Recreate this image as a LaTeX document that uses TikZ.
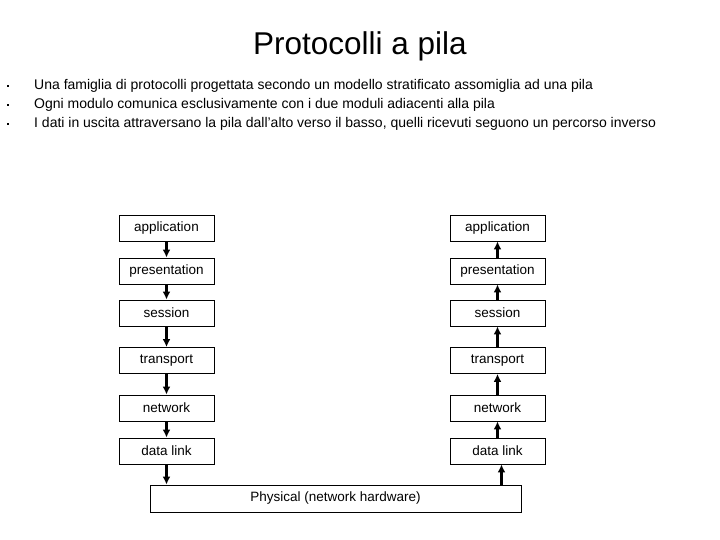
\documentclass[tikz,border=0pt]{standalone}
\usepackage{fontspec}
\setmainfont{Liberation Sans}
\usetikzlibrary{arrows.meta}

\tikzset{
  livello/.style={draw,line width=0.9pt,minimum width=95pt,minimum height=26pt,inner sep=0pt,font=\fontsize{13.5}{16}\selectfont},
  punto/.style={fill,inner sep=0pt,minimum size=2.6pt},
  riga/.style={anchor=west,inner sep=0pt,font=\fontsize{14}{16}\selectfont},
  freccia/.style={->,line width=2.4pt},
}

\begin{document}
\begin{tikzpicture}[x=1pt,y=-1pt,>={Latex[length=8pt,width=8pt]}]
  \useasboundingbox (0,0) rectangle (720,540);
  \node (titolo) at (360,46) {\fontsize{31.5}{36}\selectfont Protocolli a pila};
  % elenco puntato
  \node[punto] (p1) at (8,86) {};
  \node[punto] (p2) at (8,105) {};
  \node[punto] (p3) at (8,124) {};
  \node[riga] (r1) at (34,86) {Una famiglia di protocolli progettata secondo un modello stratificato assomiglia ad una pila};
  \node[riga] (r2) at (34,105) {Ogni modulo comunica esclusivamente con i due moduli adiacenti alla pila};
  \node[riga] (r3) at (34,124) {I dati in uscita attraversano la pila dall'alto verso il basso, quelli ricevuti seguono un percorso inverso};
  % pila di sinistra
  \node[livello] (la) at (166.5,228) {application};
  \node[livello] (lp) at (166.5,271) {presentation};
  \node[livello] (ls) at (166.5,313) {session};
  \node[livello] (lt) at (166.5,360.5) {transport};
  \node[livello] (ln) at (166.5,408) {network};
  \node[livello] (ld) at (166.5,451) {data link};
  % pila di destra
  \node[livello] (ra) at (497.5,228) {application};
  \node[livello] (rp) at (497.5,271) {presentation};
  \node[livello] (rs) at (497.5,313) {session};
  \node[livello] (rt) at (497.5,360.5) {transport};
  \node[livello] (rn) at (497.5,408) {network};
  \node[livello] (rd) at (497.5,451) {data link};
  \node[livello,minimum width=371pt,minimum height=27pt] (phys) at (335.5,498.5) {Physical (network hardware)};
  % frecce verso il basso
  \draw[freccia] (la) -- (lp);
  \draw[freccia] (lp) -- (ls);
  \draw[freccia] (ls) -- (lt);
  \draw[freccia] (lt) -- (ln);
  \draw[freccia] (ln) -- (ld);
  \draw[freccia] (ld.south) -- (ld.south |- phys.north);
  % frecce verso l'alto
  \draw[freccia] ([xshift=4pt]rd.south |- phys.north) -- ([xshift=4pt]rd.south);
  \draw[freccia] (rd) -- (rn);
  \draw[freccia] (rn) -- (rt);
  \draw[freccia] (rt) -- (rs);
  \draw[freccia] (rs) -- (rp);
  \draw[freccia] (rp) -- (ra);
\end{tikzpicture}
\end{document}
